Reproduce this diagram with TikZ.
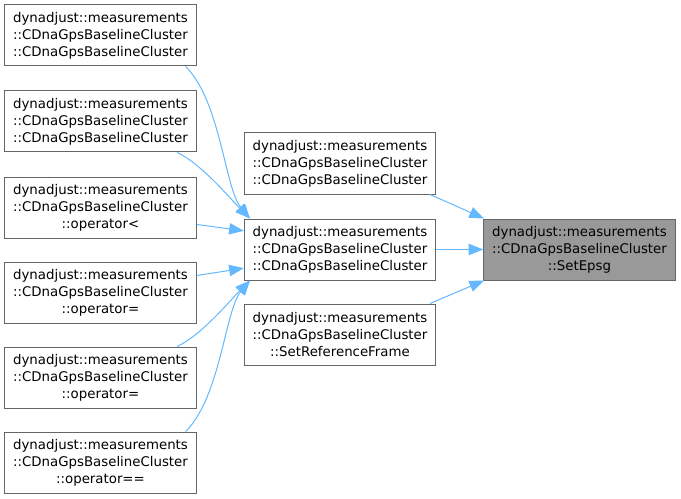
\documentclass[tikz,border=0pt]{standalone}
\usepackage{fontspec}
\setmainfont{DejaVu Sans}
\usepackage{tikz}
\usetikzlibrary{arrows.meta}

\definecolor{edgeblue}{HTML}{63B8FF}
\definecolor{boxgray}{HTML}{666666}
\definecolor{rootfill}{HTML}{999999}

\begin{document}
\begin{tikzpicture}[
    x=0.75pt, y=-0.75pt,
    fn/.style={draw=boxgray, line width=0.75pt, fill=white, minimum width=143.5pt,
      minimum height=45.75pt, align=center, inner sep=2pt,
      font=\fontsize{10}{12.75}\selectfont},
    root/.style={fn, fill=rootfill},
    call/.style={draw=edgeblue, line width=0.75pt,
      -{Triangle[length=11pt, width=8.5pt]}}
  ]
    \useasboundingbox (0,0) rectangle (681,499);
    % callers of the middle constructor
    \node[fn] (L1) at (100.5,35.5)
      {dynadjust::measurements\\::CDnaGpsBaselineCluster\\::CDnaGpsBaselineCluster};
    \node[fn] (L2) at (100.5,121.5)
      {dynadjust::measurements\\::CDnaGpsBaselineCluster\\::CDnaGpsBaselineCluster};
    \node[fn] (L3) at (100.5,207.5)
      {dynadjust::measurements\\::CDnaGpsBaselineCluster\\::operator<};
    \node[fn] (L4) at (100.5,292.5)
      {dynadjust::measurements\\::CDnaGpsBaselineCluster\\::operator=};
    \node[fn] (L5) at (100.5,377.5)
      {dynadjust::measurements\\::CDnaGpsBaselineCluster\\::operator=};
    \node[fn] (L6) at (100.5,462.5)
      {dynadjust::measurements\\::CDnaGpsBaselineCluster\\::operator==};
    % direct callers
    \node[fn] (M1) at (340,163.5)
      {dynadjust::measurements\\::CDnaGpsBaselineCluster\\::CDnaGpsBaselineCluster};
    \node[fn] (M2) at (340,249.5)
      {dynadjust::measurements\\::CDnaGpsBaselineCluster\\::CDnaGpsBaselineCluster};
    \node[fn] (M3) at (340,334.5)
      {dynadjust::measurements\\::CDnaGpsBaselineCluster\\::SetReferenceFrame};
    \node[root] (R) at (579.5,249.5)
      {dynadjust::measurements\\::CDnaGpsBaselineCluster\\::SetEpsg};

    \draw[call] (L1.-20) .. controls +(35,35) and +(-25,-30) .. (M2.161);
    \draw[call] (L2.-22) .. controls +(25,12) and +(-20,-20) .. (M2.161);
    \draw[call] (L3.-10) -- (M2.169);
    \draw[call] (L4.10) -- (M2.-169);
    \draw[call] (L5.22) .. controls +(25,-12) and +(-20,20) .. (M2.-161);
    \draw[call] (L6.20) .. controls +(35,-35) and +(-25,30) .. (M2.-161);
    \draw[call] (M1.-19) -- (R.162);
    \draw[call] (M2.east) -- (R.west);
    \draw[call] (M3.19) -- (R.-162);
  \end{tikzpicture}
\end{document}
